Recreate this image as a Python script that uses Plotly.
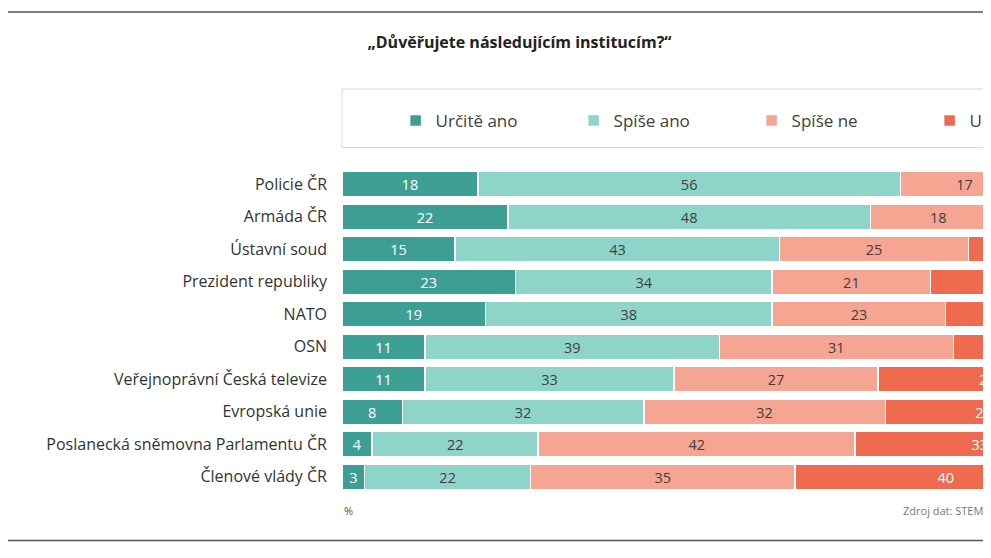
import plotly.graph_objects as go

categories = ["Policie ČR", "Armáda ČR", "Ústavní soud", "Prezident republiky", "NATO", "OSN",
              "Veřejnoprávní Česká televize", "Evropská unie",
              "Poslanecká sněmovna Parlamentu ČR", "Členové vlády ČR"]
urcite_ano = [18, 22, 15, 23, 19, 11, 11, 8, 4, 3]
spise_ano = [56, 48, 43, 34, 38, 39, 33, 32, 22, 22]
spise_ne = [17, 18, 25, 21, 23, 31, 27, 32, 42, 35]
urcite_ne = [5, 8, 12, 19, 15, 14, 29, 26, 33, 40]

series = [("Určitě ano", urcite_ano, "#3d9f93", "white"),
          ("Spíše ano", spise_ano, "#8fd4c9", "#404040"),
          ("Spíše ne", spise_ne, "#f7a593", "#404040"),
          ("Určitě ne", urcite_ne, "#ef6a4e", "white")]

fig = go.Figure()
for name, vals, col, tc in series:
    fig.add_trace(go.Bar(y=categories, x=vals, name=name, orientation="h",
                         marker=dict(color=col, line=dict(color="white", width=1.5)),
                         text=vals, textposition="inside", insidetextanchor="middle", textangle=0,
                         textfont=dict(color=tc, size=15, family="Open Sans")))

fig.update_layout(
    width=1100, height=558, barmode="stack", bargap=0.22,
    plot_bgcolor="white", paper_bgcolor="white",
    margin=dict(l=334, r=0, t=160, b=73, autoexpand=False),
    font=dict(family="Open Sans", color="#404040"),
    title=dict(text="<b>„Důvěřujete následujícím institucím?“</b>", x=0.465, xanchor="center",
               y=0.939, yanchor="middle", font=dict(size=16, color="#222")),
    xaxis=dict(range=[0, 101.5], visible=False, fixedrange=True, automargin=False),
    yaxis=dict(autorange="reversed", tickfont=dict(size=16, color="#333"), ticks="",
               ticklabelstandoff=14, automargin=False),
    legend=dict(orientation="h", x=0.07, xanchor="left", y=1.145, yanchor="middle",
                font=dict(size=17, color="#404040"), entrywidth=133, entrywidthmode="pixels",
                traceorder="normal", bgcolor="rgba(0,0,0,0)"),
    showlegend=True,
    uniformtext=dict(minsize=8, mode="show"),
)
fig.add_shape(type="rect", xref="paper", yref="paper", x0=0, x1=1.0, y0=1.063, y1=1.243,
              line=dict(color="#d9d9d9", width=1), layer="below")
fig.add_shape(type="line", xref="paper", yref="paper", x0=-0.5, x1=1.0, y0=1.48, y1=1.48,
              line=dict(color="#555", width=1.5))
fig.add_shape(type="line", xref="paper", yref="paper", x0=-0.5, x1=1.0, y0=-0.146, y1=-0.146,
              line=dict(color="#555", width=1.5))
fig.add_annotation(text="%", xref="paper", yref="paper", x=0.0, y=-0.053, yanchor="middle",
                   xanchor="left", showarrow=False, font=dict(size=11, color="#555"))
fig.add_annotation(text="Zdroj dat: STEM", xref="paper", yref="paper", x=0.839, y=-0.053,
                   yanchor="middle", xanchor="right", showarrow=False, font=dict(size=11, color="#777"))
fig.write_html("out.html")
